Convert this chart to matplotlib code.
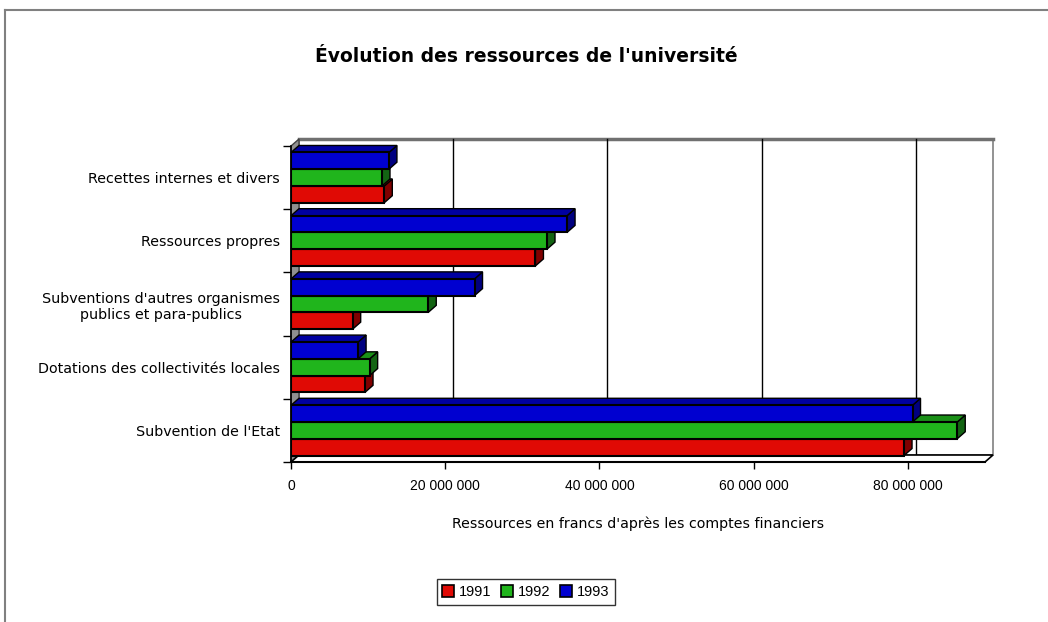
import matplotlib
matplotlib.use('Agg')
import matplotlib.pyplot as plt
from matplotlib.patches import Polygon, Rectangle, Patch
from matplotlib.transforms import offset_copy, IdentityTransform
from matplotlib.lines import Line2D

plt.rcParams['font.family'] = ['DejaVu Sans']

# data (francs), categories listed bottom to top
categories = ["Subvention de l'Etat",
              "Dotations des collectivités locales",
              "Subventions d'autres organismes\npublics et para-publics",
              "Ressources propres",
              "Recettes internes et divers"]
years = ['1991', '1992', '1993']
res_1991 = [79.5e6, 9.6e6, 8.0e6, 31.7e6, 12.1e6]
res_1992 = [86.4e6, 10.2e6, 17.8e6, 33.2e6, 11.8e6]
res_1993 = [80.6e6, 8.7e6, 23.8e6, 35.8e6, 12.7e6]
xticks = [0, 20e6, 40e6, 60e6, 80e6]
xmax = 90e6

front_col = ['#e00a05', '#20b51c', '#0000d0']
top_col = ['#b00804', '#1a8f17', '#0000a0']
side_col = ['#800000', '#136413', '#000080']

DX, DY = 8, 7  # depth of the 3d effect, pixels
h = 0.265      # bar height in category units

fig = plt.figure(figsize=(10.48, 6.22), dpi=100)
ax = fig.add_axes([291 / 1048, 160 / 622, 694 / 1048, 316 / 622])
ax.set_xlim(0, xmax)
ax.set_ylim(-0.5, len(categories) - 0.5)
ax.patch.set_visible(False)
for s in ['top', 'right']:
    ax.spines[s].set_visible(False)
ax.spines['left'].set_linewidth(1.2)
ax.spines['bottom'].set_linewidth(1.5)
ax.spines['left'].set_zorder(50)
ax.spines['bottom'].set_zorder(50)

back = offset_copy(ax.transData, fig=fig, x=DX, y=DY, units='dots')


def extrude(x0, y0, x1, y1, z, **kw):
    p = ax.transData.transform([(x0, y0), (x1, y1)])
    pts = [p[0], p[1], p[1] + (DX, DY), p[0] + (DX, DY)]
    ax.add_patch(Polygon(pts, closed=True, transform=IdentityTransform(),
                         clip_on=False, zorder=z, **kw))


# walls and floor
ax.add_patch(Rectangle((0, -0.5), xmax, len(categories), transform=back,
                       facecolor='white', edgecolor='#808080', lw=1.2,
                       clip_on=False, zorder=0))
ax.plot([0, xmax], [len(categories) - 0.5] * 2, transform=back,
        color='#707070', lw=2.5, clip_on=False, zorder=1)
for t in xticks[1:]:
    ax.plot([t, t], [-0.5, len(categories) - 0.5], transform=back,
            color='black', lw=1, clip_on=False, zorder=1)
extrude(0, -0.5, 0, len(categories) - 0.5, 1, facecolor='#909090',
        edgecolor='#404040', lw=1)
extrude(0, -0.5, xmax, -0.5, 1, facecolor='white', edgecolor='black', lw=1.2)

# bars
series = [res_1991, res_1992, res_1993]
z = 2
for i in range(len(categories)):
    for k, vals in enumerate(series):
        v = vals[i]
        y = i + (k - 1) * h
        lo, hi = y - h / 2, y + h / 2
        extrude(v, lo, v, hi, z, facecolor=side_col[k], edgecolor='black', lw=1)
        extrude(0, hi, v, hi, z, facecolor=top_col[k], edgecolor='black', lw=1)
        ax.barh(y, v, height=h, color=front_col[k], edgecolor='black',
                lw=1.5, zorder=z + 1)
        z += 2

# axes text
ax.set_yticks(range(len(categories)), labels=categories, fontsize=10.3)
ax.set_yticks([i - 0.5 for i in range(len(categories) + 1)], minor=True)
ax.tick_params(axis='y', which='major', length=0, pad=8)
ax.tick_params(axis='y', which='minor', length=6, width=1)
for lbl in ax.get_yticklabels():
    lbl.set_multialignment('center')
ax.set_xticks(xticks, labels=['{:,.0f}'.format(t).replace(',', ' ') for t in xticks])
for lbl in ax.get_xticklabels():
    lbl.set_fontfamily('Liberation Sans')
    lbl.set_fontsize(10)
ax.tick_params(axis='x', length=5, width=1, pad=7)
ax.set_xlabel("Ressources en francs d'après les comptes financiers",
              fontsize=10.2, labelpad=17)

fig.text(526 / 1048, 1 - 57 / 622, "Évolution des ressources de l'université",
         ha='center', va='center', fontsize=13.5, fontweight='bold')

handles = [Patch(facecolor=c, edgecolor='black', lw=1.2) for c in front_col]
fig.legend(handles, years, loc='center', bbox_to_anchor=(526 / 1048, 1 - 592 / 622),
           ncol=3, frameon=True, fancybox=False, edgecolor='black',
           prop={'family': 'Liberation Sans', 'size': 10.5},
           handlelength=0.8, handleheight=0.8, handletextpad=0.36,
           columnspacing=0.65, borderpad=0.4, borderaxespad=0)

# chart area border
fig.add_artist(Line2D([5 / 1048, 5 / 1048], [0, 1 - 10 / 622], color='#808080',
                      lw=1.5, transform=fig.transFigure))
fig.add_artist(Line2D([5 / 1048, 1], [1 - 10 / 622, 1 - 10 / 622], color='#808080',
                      lw=1.5, transform=fig.transFigure))

fig.savefig('out.png', dpi=100)
